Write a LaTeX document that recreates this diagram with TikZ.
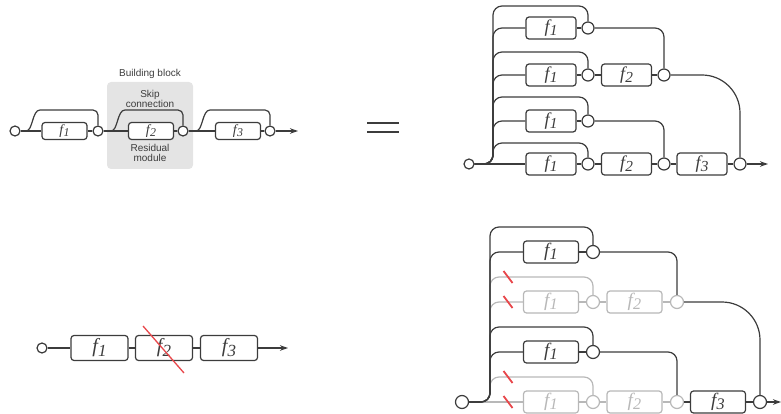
\documentclass[tikz,border=0pt]{standalone}
\usepackage{fontspec}
\setmainfont{Liberation Serif}
\setsansfont{Liberation Sans}
\usepackage{graphicx}
\usetikzlibrary{arrows.meta,calc}
\definecolor{ink}{HTML}{3C3C3C}
\definecolor{fadedgray}{HTML}{B8B8B8}
\definecolor{cutred}{HTML}{E8474B}
\definecolor{blockbg}{HTML}{E4E4E4}
\newcommand{\fsub}[1]{\itshape f\kern0.2pt\raisebox{-0.35ex}{\scalebox{0.85}{#1}}}
\begin{document}
\begin{tikzpicture}[x=1pt,y=-1pt,line width=1.2pt,color=ink,
  fbox/.style={draw,rounded corners=3pt,fill=white,inner sep=0pt},
  tlbox/.style={fbox,minimum width=45pt,minimum height=17pt,font=\fontsize{14}{14}\selectfont},
  trbox/.style={fbox,minimum width=50pt,minimum height=22pt,font=\fontsize{18}{18}\selectfont},
  blbox/.style={fbox,minimum width=57pt,minimum height=25pt,font=\fontsize{20}{20}\selectfont},
  brbox/.style={fbox,minimum width=55pt,minimum height=22pt,font=\fontsize{19}{19}\selectfont},
  junc/.style={circle,draw,fill=white,inner sep=0pt,minimum size=10pt},
  juncm/.style={junc,minimum size=12pt},
  juncl/.style={junc,minimum size=13pt},
  ghost/.style={color=fadedgray},
  redtick/.style={cutred,line width=1.8pt},
  arr/.style={-{Stealth[length=8pt,width=5.5pt]}},
  caption/.style={font=\sffamily\fontsize{10}{10}\selectfont,align=center,text=ink},
  skipr/.style={rounded corners=9pt}]
\useasboundingbox (0,0) rectangle (781,414);

% ---------------- top-left ----------------
\node[fill=blockbg,rounded corners=4pt,minimum width=86pt,minimum height=87pt,inner sep=0pt] (blk) at (150,125.5) {};
\node[caption] (bbt) at (150,74) {Building block};
\node[caption] (skt) at (150,98.5) {Skip\\connection};
\node[caption] (rmt) at (150,153) {Residual\\module};

\node[junc] (a0) at (15,131) {};
\node[tlbox] (a1) at (64.5,131) {\fsub{1}};
\node[junc] (a1o) at (98,131) {};
\node[tlbox] (a2) at (151,131) {\fsub{2}};
\node[junc] (a2o) at (183,131) {};
\node[tlbox] (a3) at (238,131) {\fsub{3}};
\node[junc] (a3o) at (270,131) {};
\coordinate (aend) at (298,131);
\coordinate (s1) at (26,131);
\coordinate (s2) at (111,131);
\coordinate (s3) at (196,131);

\draw (a0) -- (a1) -- (a1o) -- (a2) -- (a2o) -- (a3) -- (a3o);
\draw[arr] (a3o) -- (aend);
\foreach \s/\o in {s1/a1o,s2/a2o,s3/a3o}{
  \draw (\s) .. controls ($(\s)+(7,0)$) and ($(\s)+(6,-21)$) .. ($(\s)+(14,-21)$)
        [rounded corners=5pt] -| (\o.north);
}

% ---------------- equals ----------------
\draw[line width=2pt] (367,123) -- (399,123);
\draw[line width=2pt] (367,132) -- (399,132);

% ---------------- top-right ----------------
\node[junc] (in) at (469,164) {};
\coordinate (tk) at (493,164);
\node[trbox] (b11) at (551,28) {\fsub{1}};
\node[juncm] (c11) at (588,28) {};
\node[trbox] (b21) at (551,75) {\fsub{1}};
\node[juncm] (c21) at (588,75) {};
\node[trbox] (b22) at (626.5,75) {\fsub{2}};
\node[juncm] (c22) at (664,75) {};
\node[trbox] (b31) at (551,121) {\fsub{1}};
\node[juncm] (c31) at (588,121) {};
\node[trbox] (b41) at (551,164) {\fsub{1}};
\node[juncm] (c41) at (588,164) {};
\node[trbox] (b42) at (626.5,164) {\fsub{2}};
\node[juncm] (c42) at (664,164) {};
\node[trbox] (b43) at (702,164) {\fsub{3}};
\node[juncm] (c43) at (740,164) {};
\coordinate (tend) at (768,164);
\coordinate (k1) at (588,6);
\coordinate (k2) at (588,52);
\coordinate (k3) at (588,97);
\coordinate (k4) at (588,143);

\draw[skipr] (in.east) -| (tk |- k1) -| (c11.north);
\draw[skipr] (in.east) -| (tk |- b11.west) -- (b11.west);
\draw[skipr] (in.east) -| (tk |- k2) -| (c21.north);
\draw[skipr] (in.east) -| (tk |- b21.west) -- (b21.west);
\draw[skipr] (in.east) -| (tk |- k3) -| (c31.north);
\draw[skipr] (in.east) -| (tk |- b31.west) -- (b31.west);
\draw[skipr] (in.east) -| (tk |- k4) -| (c41.north);
\draw (in) -- (b41) -- (c41) -- (b42) -- (c42) -- (b43) -- (c43);
\draw[arr] (c43) -- (tend);
\draw (b11) -- (c11);
\draw (b21) -- (c21) -- (b22) -- (c22);
\draw (b31) -- (c31);
\draw[skipr] (c11.east) -| (c22.north);
\draw[skipr] (c31.east) -| (c42.north);
\draw[rounded corners=38pt] (c22.east) -| (c43.north);

% ---------------- bottom-left ----------------
\node[junc] (g0) at (42,348) {};
\node[blbox] (g1) at (99.5,348) {\fsub{1}};
\node[blbox] (g2) at (164,348) {\fsub{2}};
\node[blbox] (g3) at (229,348) {\fsub{3}};
\coordinate (gend) at (288,348);
\draw (g0) -- (g1) -- (g2) -- (g3);
\draw[arr] (g3) -- (gend);
\coordinate (x1) at (143,326);
\coordinate (x2) at (184,373);
\draw[cutred,line width=1.3pt] (x1) -- (x2);

% ---------------- bottom-right ----------------
\node[juncl] (in2) at (462,402) {};
\coordinate (tk2) at (490,402);
\coordinate (m1) at (593,227);
\coordinate (m2) at (593,277);
\coordinate (m3) at (593,327);
\coordinate (m4) at (593,377);
% faded parts
\begin{scope}[ghost]
\node[brbox] (d21) at (551,302) {\fsub{1}};
\node[juncl] (e21) at (593,302) {};
\node[brbox] (d22) at (634.5,302) {\fsub{2}};
\node[juncl] (e22) at (677,302) {};
\node[brbox] (d41) at (551,402) {\fsub{1}};
\node[juncl] (e41) at (593,402) {};
\node[brbox] (d42) at (634.5,402) {\fsub{2}};
\node[juncl] (e42) at (677,402) {};
\draw[skipr] (in2.east) -| (tk2 |- m2) -| (e21.north);
\draw[skipr] (in2.east) -| (tk2 |- d21.west) -- (d21.west);
\draw (d21) -- (e21) -- (d22) -- (e22);
\draw[skipr] (in2.east) -| (tk2 |- m4) -| (e41.north);
\draw (in2) -- (d41) -- (e41) -- (d42) -- (e42);
\end{scope}
% active parts
\node[brbox] (d11) at (551,252) {\fsub{1}};
\node[juncl] (e11) at (593,252) {};
\node[brbox] (d31) at (551,352) {\fsub{1}};
\node[juncl] (e31) at (593,352) {};
\node[brbox] (d43) at (718,402) {\fsub{3}};
\node[juncl] (e43) at (760,402) {};
\coordinate (bend) at (781,402);
\draw[skipr] (in2.east) -| (tk2 |- m1) -| (e11.north);
\draw[skipr] (in2.east) -| (tk2 |- d11.west) -- (d11.west);
\draw (d11) -- (e11);
\draw[skipr] (in2.east) -| (tk2 |- m3) -| (e31.north);
\draw[skipr] (in2.east) -| (tk2 |- d31.west) -- (d31.west);
\draw (d31) -- (e31);
\draw[skipr] (e11.east) -| (e22.north);
\draw[skipr] (e31.east) -| (e42.north);
\draw[rounded corners=38pt] (e22.east) -| (e43.north);
\draw (e42) -- (d43) -- (e43);
\draw[arr] (e43) -- (bend);
% cut marks
\foreach \t in {277,302,377,402}{
  \coordinate (tt) at (508,\t);
  \draw[redtick] ($(tt)+(-4.5,-6)$) -- ($(tt)+(4.5,6)$);
}
\end{tikzpicture}
\end{document}
